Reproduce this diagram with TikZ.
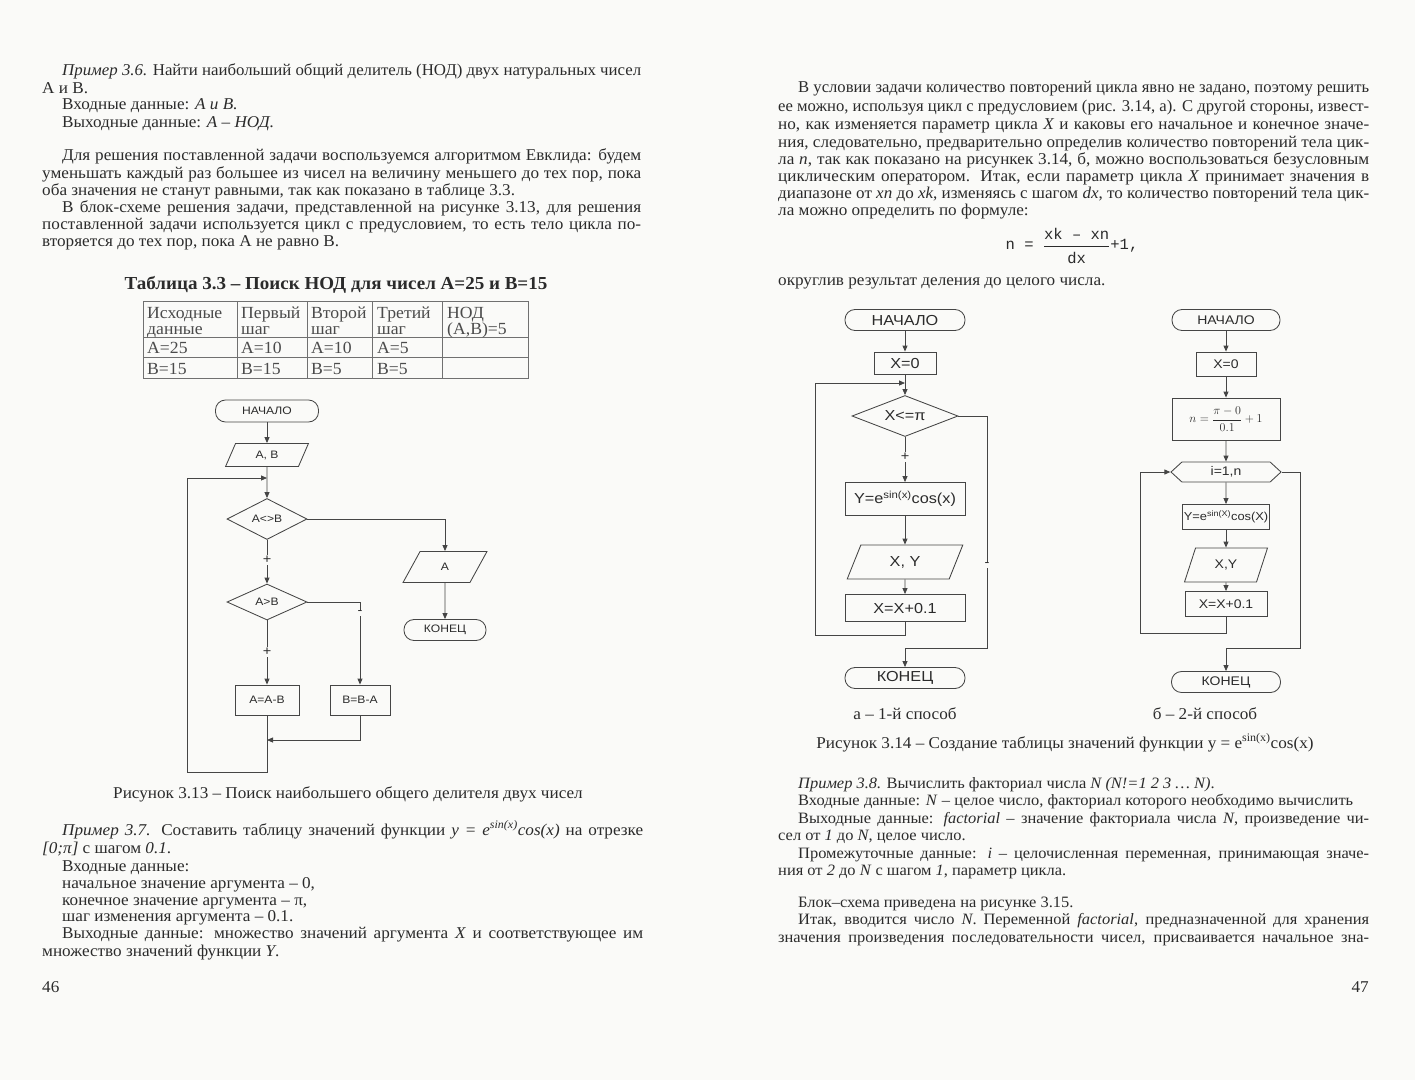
\documentclass[tikz,border=0pt]{standalone}
\usepackage{graphicx}
\usepackage{fontspec}
\setmainfont{Liberation Serif}[FakeStretch=1.04]
\setsansfont{Liberation Sans}
\setmonofont{Liberation Mono}
\newfontfamily\fcfont{Liberation Sans}[FakeStretch=1.12]
\usetikzlibrary{shapes.geometric,shapes.symbols,arrows.meta}
\definecolor{ink}{HTML}{2B2B2B}
\definecolor{paper}{HTML}{FAFAF8}
\definecolor{lineg}{HTML}{454545}
\definecolor{tabg}{HTML}{707070}
\newsavebox\JLbox
\newcommand\JL[2]{\sbox\JLbox{#2}\ifdim\wd\JLbox>#1pt\resizebox{#1pt}{\height}{\usebox\JLbox}\else\makebox[#1pt][s]{#2}\fi}
\begin{document}
\begin{tikzpicture}[x=1pt,y=-1pt,
 txt/.style={anchor=base west,inner sep=0pt,text=ink,font=\fontsize{16.5}{19}\selectfont},
 txts/.style={txt,font=\fontsize{15.8}{19}\selectfont},
 tcell/.style={anchor=base west,inner sep=0pt,text=ink!85,font=\fontsize{17}{20}\selectfont},
 fc/.style={draw=lineg,line width=0.85pt,text=ink,inner sep=1pt},
 fcl/.style={fc,font=\fcfont\fontsize{10.8}{13}\selectfont},
 fca/.style={fc,font=\fcfont\fontsize{14.5}{16}\selectfont},
 fcb/.style={fc,font=\fcfont\fontsize{12.5}{14}\selectfont},
 term/.style={rounded corners=10pt},
 proc/.style={rectangle},
 iobox/.style={trapezium,trapezium left angle=70,trapezium right angle=110,trapezium stretches=true},
 cond/.style={diamond,aspect=2,inner sep=0pt},
 arr/.style={draw=lineg,line width=0.85pt,-{Triangle[length=6pt,width=5pt]}},
 ln/.style={draw=lineg,line width=0.85pt},
 lbl/.style={fill=paper,inner sep=1.5pt,text=ink,font=\fcfont\fontsize{13}{14}\selectfont}]
\fill[paper] (0,0) rectangle (1415,1080);
\useasboundingbox (0,0) rectangle (1415,1080);

% ---------------- left page text ----------------
\node[txt] (t1) at (62,75) {\JL{579}{\textit{Пример 3.6.} Найти наибольший общий делитель (НОД) двух натуральных чисел}};
\node[txt] (t2) at (42,93) {А и В.};
\node[txt] (t3) at (62,109) {Входные данные: \textit{А и В.}};
\node[txt] (t4) at (62,127) {Выходные данные: \textit{А – НОД.}};
\node[txt] (t5) at (62,160) {\JL{579}{Для решения поставленной задачи воспользуемся алгоритмом Евклида: будем}};
\node[txt] (t6) at (42,178) {\JL{599}{уменьшать каждый раз большее из чисел на величину меньшего до тех пор, пока}};
\node[txt] (t7) at (42,195) {оба значения не станут равными, так как показано в таблице 3.3.};
\node[txt] (t8) at (62,212) {\JL{579}{В блок-схеме решения задачи, представленной на рисунке 3.13, для решения}};
\node[txt] (t9) at (42,229) {\JL{599}{поставленной задачи используется цикл с предусловием, то есть тело цикла по-}};
\node[txt] (t10) at (42,246) {вторяется до тех пор, пока А не равно В.};

% table
\node[anchor=base,inner sep=0pt,text=ink,font=\bfseries\fontsize{18.3}{21}\selectfont] (ttl) at (336,289) {Таблица 3.3 – Поиск НОД для чисел А=25 и В=15};
\draw[tabg,line width=0.6pt] (143,301) rectangle (528,378);
\foreach \xx in {237,307,372,442} \draw[tabg,line width=0.6pt] (\xx,301) -- (\xx,378);
\foreach \yy in {337,357} \draw[tabg,line width=0.6pt] (143,\yy) -- (528,\yy);
\node[tcell] (c11) at (147,318) {Исходные};
\node[tcell] (c12) at (147,334) {данные};
\node[tcell] (c21) at (241,318) {Первый};
\node[tcell] (c22) at (241,334) {шаг};
\node[tcell] (c31) at (311,318) {Второй};
\node[tcell] (c32) at (311,334) {шаг};
\node[tcell] (c41) at (377,318) {Третий};
\node[tcell] (c42) at (377,334) {шаг};
\node[tcell] (c51) at (447,318) {НОД};
\node[tcell] (c52) at (447,334) {(А,В)=5};
\node[tcell] (r21) at (147,353) {А=25};
\node[tcell] (r22) at (241,353) {А=10};
\node[tcell] (r23) at (311,353) {А=10};
\node[tcell] (r24) at (377,353) {А=5};
\node[tcell] (r31) at (147,374) {В=15};
\node[tcell] (r32) at (241,374) {В=15};
\node[tcell] (r33) at (311,374) {В=5};
\node[tcell] (r34) at (377,374) {В=5};

% flowchart 3.13
\node[fcl,term,minimum width=103pt,minimum height=22pt] (s1) at (267,411) {НАЧАЛО};
\node[fcl,iobox,minimum width=83pt,minimum height=23pt] (io1) at (267,455) {A, B};
\node[fcl,cond,minimum width=80pt,minimum height=41pt] (d1) at (267,519) {A<>B};
\node[fcl,iobox,minimum width=84pt,minimum height=31pt] (io2) at (445,567) {A};
\node[fcl,term,minimum width=82pt,minimum height=21pt] (e1) at (445,630) {КОНЕЦ};
\node[fcl,cond,minimum width=80pt,minimum height=36pt] (d2) at (267,602) {A>B};
\node[fcl,proc,minimum width=64pt,minimum height=30pt] (p1) at (267,700) {A=A-B};
\node[fcl,proc,minimum width=60pt,minimum height=30pt] (p2) at (360,700) {B=B-A};
\coordinate (m0) at (267,478);
\coordinate (m1) at (267,740);
\draw[arr] (s1) -- (io1);
\draw[arr] (io1) -- (d1);
\draw[arr] (d1.east) -| (io2.north);
\draw[arr] (io2) -- (e1);
\draw[arr] (d1.south) -- (d2.north);
\draw[arr] (d2.east) -| (p2.north);
\draw[arr] (d2.south) -- (p1.north);
\draw[arr] (p2.south) |- (m1);
\draw[arr] (p1.south) -- ++(0,57) -| (187,478) -- (m0);
\node[lbl] (pl1) at (267,560) {+};
\node[lbl] (mi1) at (360,613) {-};
\node[lbl] (pl2) at (267,652) {+};

\node[txt,anchor=base] (cap1) at (348,798) {Рисунок 3.13 – Поиск наибольшего общего делителя двух чисел};

% bottom left text
\node[txt] (u1) at (62,835) {\JL{581}{\textit{Пример 3.7.} Составить таблицу значений функции \textit{y = e\textsuperscript{sin(x)}cos(x)} на отрезке}};
\node[txt] (u2) at (42,853) {\textit{[0;π]} с шагом \textit{0.1}.};
\node[txt] (u3) at (62,871) {Входные данные:};
\node[txt] (u4) at (62,888) {начальное значение аргумента – 0,};
\node[txt] (u5) at (62,905) {конечное значение аргумента – π,};
\node[txt] (u6) at (62,921) {шаг изменения аргумента – 0.1.};
\node[txt] (u7) at (62,938) {\JL{581}{Выходные данные: множество значений аргумента \textit{X} и соответствующее им}};
\node[txt] (u8) at (42,956) {множество значений функции \textit{Y}.};
\node[txt] (pg46) at (42,992) {46};

% ---------------- right page text ----------------
\node[txt] (r1) at (798,92) {\JL{571}{В условии задачи количество повторений цикла явно не задано, поэтому решить}};
\node[txt] (r2) at (778,111) {\JL{591}{ее можно, используя цикл с предусловием (рис. 3.14, а). С другой стороны, извест-}};
\node[txt] (r3) at (778,129) {\JL{591}{но, как изменяется параметр цикла \textit{X} и каковы его начальное и конечное значе-}};
\node[txt] (r4) at (778,147) {\JL{591}{ния, следовательно, предварительно определив количество повторений тела цик-}};
\node[txt] (r5) at (778,164) {\JL{591}{ла \textit{n}, так как показано на рисункек 3.14, б, можно воспользоваться безусловным}};
\node[txt] (r6) at (778,181) {\JL{591}{циклическим оператором. Итак, если параметр цикла \textit{X} принимает значения в}};
\node[txt] (r7) at (778,198) {\JL{591}{диапазоне от \textit{xn} до \textit{xk}, изменяясь с шагом \textit{dx}, то количество повторений тела цик-}};
\node[txt] (r8) at (778,215) {ла можно определить по формуле:};
\node[inner sep=0pt,text=ink,font=\ttfamily\fontsize{15.5}{18}\selectfont] (frm) at (1072,245)
  {n = $\displaystyle\frac{\hbox{\ttfamily\rule{0pt}{13pt}xk – xn}}{\hbox{\ttfamily\rule{0pt}{16pt}dx}}$+1,};
\node[txt] (r9) at (778,285) {округлив результат деления до целого числа.};

% flowchart a
\node[fca,term,minimum width=120pt,minimum height=21pt] (a1) at (905,320) {НАЧАЛО};
\node[fca,proc,minimum width=62pt,minimum height=22pt] (a2) at (905,363) {X=0};
\node[fca,cond,minimum width=106pt,minimum height=41pt] (a3) at (905,416) {X<=π};
\node[fca,proc,minimum width=120pt,minimum height=33pt] (a4) at (905,499) {Y=e\textsuperscript{sin(x)}cos(x)};
\node[fca,iobox,minimum width=116pt,minimum height=34pt] (a5) at (905,562) {X, Y};
\node[fca,proc,minimum width=120pt,minimum height=27pt] (a6) at (905,608) {X=X+0.1};
\node[fca,term,minimum width=120pt,minimum height=21pt] (a7) at (905,678) {КОНЕЦ};
\coordinate (am) at (905,383);
\coordinate (ae) at (905,648);
\draw[arr] (a1) -- (a2);
\draw[arr] (a2) -- (a3);
\draw[arr] (a3) -- (a4);
\draw[arr] (a4) -- (a5);
\draw[arr] (a5) -- (a6);
\draw[arr] (a6.south) -- ++(0,13) -| (815,383) -- (am);
\draw[ln] (a3.east) -| (987,648) -- (ae);
\draw[arr] (ae) -- (a7);
\node[lbl] (apl) at (905,457) {+};
\node[lbl] (ami) at (987,565) {-};

% flowchart b
\node[fcb,term,minimum width=108pt,minimum height=21pt] (b1) at (1226,320) {НАЧАЛО};
\node[fcb,proc,minimum width=60pt,minimum height=24pt] (b2) at (1226,364) {X=0};
\node[fc,proc,minimum width=108pt,minimum height=42pt,font=\fontsize{12.5}{14}\selectfont] (b3) at (1226,419) {$n=\displaystyle\frac{\pi-0}{0.1}+1$};
\node[fcb,signal,signal to=east and west,signal pointer angle=85,minimum width=110pt,minimum height=20pt] (b4) at (1226,472) {i=1,n};
\node[fc,proc,minimum width=87pt,minimum height=25pt,font=\fcfont\fontsize{11.5}{13}\selectfont] (b5) at (1226,517) {Y=e\textsuperscript{sin(X)}cos(X)};
\node[fcb,iobox,minimum width=83pt,minimum height=34pt] (b6) at (1226,565) {X,Y};
\node[fcb,proc,minimum width=82pt,minimum height=25pt] (b7) at (1226,604) {X=X+0.1};
\node[fcb,term,minimum width=109pt,minimum height=21pt] (b8) at (1226,682) {КОНЕЦ};
\coordinate (be) at (1226,648);
\draw[arr] (b1) -- (b2);
\draw[arr] (b2) -- (b3);
\draw[arr] (b3) -- (b4);
\draw[arr] (b4) -- (b5);
\draw[arr] (b5) -- (b6);
\draw[arr] (b6) -- (b7);
\draw[arr] (b7.south) -- ++(0,16) -| (1140,472) -- (b4.west);
\draw[ln] (b4.east) -| (1300,648) -- (be);
\draw[arr] (be) -- (b8);

\node[txt,anchor=base] (capa) at (905,719) {а – 1-й способ};
\node[txt,anchor=base] (capb) at (1205,719) {б – 2-й способ};
\node[txt,anchor=base] (cap2) at (1065,748) {Рисунок 3.14 – Создание таблицы значений функции y = e\textsuperscript{sin(x)}cos(x)};

% bottom right text
\node[txts] (v1) at (798,788) {\textit{Пример 3.8.} Вычислить факториал числа \textit{N (N!=1 2 3 … N)}.};
\node[txts] (v2) at (798,805) {\JL{555}{Входные данные: \textit{N} – целое число, факториал которого необходимо вычислить}};
\node[txts] (v3) at (798,823) {\JL{571}{Выходные данные: \textit{factorial} – значение факториала числа \textit{N}, произведение чи-}};
\node[txts] (v4) at (778,840) {сел от \textit{1} до \textit{N}, целое число.};
\node[txts] (v5) at (798,858) {\JL{571}{Промежуточные данные: \textit{i} – целочисленная переменная, принимающая значе-}};
\node[txts] (v6) at (778,875) {ния от \textit{2} до \textit{N} с шагом \textit{1}, параметр цикла.};
\node[txts] (v7) at (798,907) {Блок–схема приведена на рисунке 3.15.};
\node[txts] (v8) at (798,924) {\JL{571}{Итак, вводится число \textit{N}. Переменной \textit{factorial}, предназначенной для хранения}};
\node[txts] (v9) at (778,942) {\JL{591}{значения произведения последовательности чисел, присваивается начальное зна-}};
\node[txt,anchor=base east] (pg47) at (1369,992) {47};
\end{tikzpicture}
\end{document}
